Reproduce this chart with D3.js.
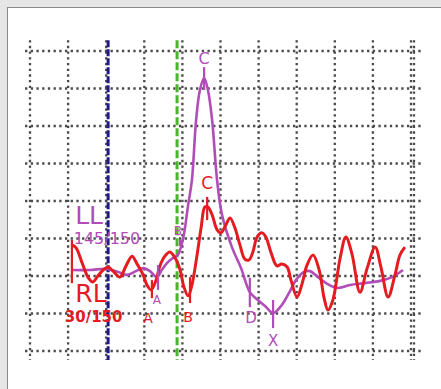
<!DOCTYPE html>
<html>
<head>
<meta charset="utf-8">
<script src="https://cdn.jsdelivr.net/npm/d3@7"></script>
<style>
  html, body { margin: 0; padding: 0; background: #e6e6e6; }
  svg { display: block; }
</style>
</head>
<body>
<script>
// values in grid units (10 columns, 8 rows)
const gridCols = d3.range(0, 11);
const gridRows = d3.range(0, 9);

const llX = [1.10, 1.57, 2.02, 2.31, 2.55, 2.78, 2.97, 3.15, 3.33, 3.46, 3.60, 3.75, 3.88, 4.02, 4.15, 4.25, 4.36, 4.46, 4.57, 4.67, 4.78, 4.91, 5.04, 5.30, 5.54, 5.77, 5.98, 6.17, 6.38, 6.59, 6.80, 6.98, 7.19, 7.35, 7.56, 7.80, 8.06, 8.40, 8.79, 9.19, 9.50, 9.79];
const llY = [2.16, 2.16, 2.19, 2.11, 2.03, 2.13, 2.21, 2.13, 1.97, 2.16, 2.35, 2.48, 2.56, 3.01, 3.89, 4.56, 6.16, 6.96, 7.28, 6.96, 6.16, 4.56, 3.63, 2.77, 2.21, 1.57, 1.36, 1.20, 1.01, 1.20, 1.55, 1.89, 2.11, 2.13, 1.97, 1.79, 1.68, 1.76, 1.81, 1.87, 1.97, 2.16];

const rlX = [1.10, 1.21, 1.36, 1.52, 1.65, 1.78, 1.92, 2.05, 2.18, 2.36, 2.52, 2.68, 2.81, 2.97, 3.07, 3.18, 3.31, 3.41, 3.54, 3.67, 3.81, 3.94, 4.04, 4.15, 4.25, 4.38, 4.49, 4.59, 4.67, 4.78, 4.91, 5.01, 5.14, 5.25, 5.38, 5.51, 5.64, 5.75, 5.85, 5.96, 6.09, 6.19, 6.33, 6.48, 6.61, 6.75, 6.85, 7.01, 7.14, 7.27, 7.43, 7.59, 7.72, 7.82, 7.95, 8.14, 8.29, 8.45, 8.66, 8.85, 9.06, 9.21, 9.40, 9.58, 9.71, 9.84];
const rlY = [2.83, 2.75, 2.37, 1.97, 1.84, 2.00, 2.16, 2.24, 2.13, 1.97, 2.27, 2.53, 2.32, 2.03, 1.76, 1.63, 1.89, 2.27, 2.53, 2.64, 2.48, 2.16, 1.71, 1.47, 1.76, 2.53, 3.28, 3.84, 3.84, 3.63, 3.23, 3.15, 3.36, 3.55, 3.28, 2.83, 2.45, 2.43, 2.64, 3.04, 3.15, 3.04, 2.61, 2.27, 2.32, 2.24, 1.89, 1.44, 1.79, 2.29, 2.56, 2.16, 1.41, 1.09, 1.36, 2.48, 3.04, 2.59, 1.57, 2.21, 2.77, 2.24, 1.44, 2.03, 2.56, 2.77];

// point markers: label, series, x, tick top, tick bottom, label y, font size
const markLabels = ["", "A", "B", "C", "A", "B", "C", "D", "X"];
const markSeries = ["rl", "rl", "rl", "rl", "ll", "ll", "ll", "ll", "ll"];
const markX = [1.10, 3.20, 4.20, 4.65, 3.36, 3.94, 4.57, 5.77, 6.38];
const markTop = [2.96, 1.89, 1.97, 4.11, 2.29, 2.96, 7.57, 1.95, 1.36];
const markBottom = [1.81, 1.41, 1.28, 3.49, 1.63, 2.80, 6.96, 1.17, 0.61];
const markLabelY = [0, 0.88, 0.91, 4.48, 1.36, 3.20, 7.81, 0.88, 0.29];
const markLabelX = [1.10, 3.10, 4.15, 4.65, 3.33, 3.88, 4.57, 5.80, 6.38];
const markSize = [0, 14, 14, 17, 12, 12, 16, 15, 15];

const blueLineX = 2.05;
const greenLineX = 3.86;

const colors = { ll: "#b24cb8", rl: "#e41b1f" };

const W = 441, H = 389;
const svg = d3.select("body").append("svg").attr("width", W).attr("height", H);

svg.append("rect")
  .attr("x", 7.5).attr("y", 7.5)
  .attr("width", W).attr("height", H)
  .attr("fill", "#fff").attr("stroke", "#8a8a8a");

const x = d3.scaleLinear().domain([0, 10]).range([30, 411]);
const y = d3.scaleLinear().domain([0, 8]).range([351, 51]);

// dotted grid
const grid = svg.append("g")
  .attr("stroke", "#4a4a4a")
  .attr("stroke-width", 2.3)
  .attr("stroke-dasharray", "2.3 3.4");

grid.selectAll(".h").data(gridRows).join("line")
  .attr("x1", x(-0.13)).attr("x2", x(10.31))
  .attr("y1", d => y(d)).attr("y2", d => y(d));

grid.selectAll(".v").data(gridCols).join("line")
  .attr("x1", d => x(d)).attr("x2", d => x(d))
  .attr("y1", y(8.29)).attr("y2", y(-0.24));

grid.append("line")
  .attr("x1", x(10) + 3).attr("x2", x(10) + 3)
  .attr("y1", y(8.29)).attr("y2", y(-0.24));

// vertical reference lines
svg.append("line")
  .attr("x1", x(blueLineX)).attr("x2", x(blueLineX))
  .attr("y1", y(8.29)).attr("y2", y(-0.24))
  .attr("stroke", "#1f1a86").attr("stroke-width", 3)
  .attr("stroke-dasharray", "7 2");

svg.append("line")
  .attr("x1", x(greenLineX)).attr("x2", x(greenLineX))
  .attr("y1", y(8.29)).attr("y2", y(-0.24))
  .attr("stroke", "#49b52a").attr("stroke-width", 3)
  .attr("stroke-dasharray", "8 3");

const line = d3.line()
  .x(d => x(d[0])).y(d => y(d[1]))
  .curve(d3.curveCatmullRom.alpha(0.5));

svg.append("path")
  .datum(d3.zip(llX, llY))
  .attr("d", line)
  .attr("fill", "none")
  .attr("stroke", colors.ll)
  .attr("stroke-width", 2.6)
  .attr("stroke-linejoin", "round");

svg.append("path")
  .datum(d3.zip(rlX, rlY))
  .attr("d", line)
  .attr("fill", "none")
  .attr("stroke", colors.rl)
  .attr("stroke-width", 3)
  .attr("stroke-linejoin", "round");

// marker ticks and letters
const marks = markLabels.map((l, i) => ({
  label: l, s: markSeries[i], x: markX[i], top: markTop[i], bottom: markBottom[i],
  lx: markLabelX[i], ly: markLabelY[i], size: markSize[i]
}));

svg.selectAll(".tick").data(marks).join("line")
  .attr("x1", d => x(d.x)).attr("x2", d => x(d.x))
  .attr("y1", d => y(d.top)).attr("y2", d => y(d.bottom))
  .attr("stroke", d => colors[d.s])
  .attr("stroke-width", 2.2);

svg.selectAll(".lbl").data(marks.filter(d => d.label)).join("text")
  .attr("x", d => x(d.lx)).attr("y", d => y(d.ly))
  .attr("dy", "0.36em")
  .attr("text-anchor", "middle")
  .attr("font-family", "DejaVu Sans, sans-serif")
  .attr("font-size", d => d.size)
  .attr("fill", d => colors[d.s])
  .text(d => d.label);

// series captions
const caption = (t, cx, cy, size, c, weight) => svg.append("text")
  .attr("x", x(cx)).attr("y", y(cy)).attr("dy", "0.36em")
  .attr("text-anchor", "middle")
  .attr("font-family", "DejaVu Sans, sans-serif")
  .attr("font-size", size).attr("font-weight", weight)
  .attr("fill", c).text(t);

caption("LL", 1.55, 3.63, 25, colors.ll, "normal");
caption("145/150", 2.02, 3.01, 16, colors.ll, "normal");
caption("RL", 1.60, 1.55, 25, colors.rl, "normal");
caption("30/150", 1.67, 0.91, 15, colors.rl, "bold");
</script>
</body>
</html>
